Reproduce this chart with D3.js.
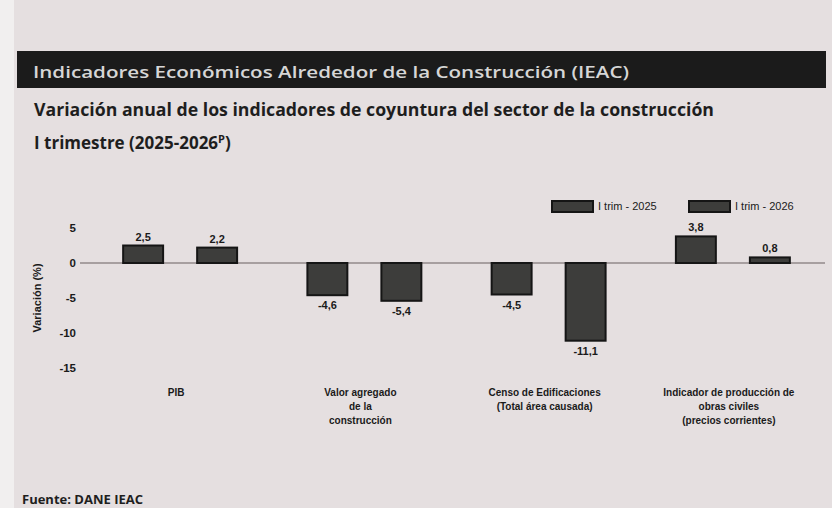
<!DOCTYPE html>
<html>
<head>
<meta charset="utf-8">
<script src="https://cdn.jsdelivr.net/npm/d3@7"></script>
<style>
body { margin: 0; background: #e5dfe0; }
svg { display: block; }
</style>
</head>
<body>
<svg id="chart" width="832" height="508"></svg>
<script>
// datos
var categorias = ["PIB", "Valor agregado de la construcción", "Censo de Edificaciones (Total área causada)", "Indicador de producción de obras civiles (precios corrientes)"];
var etiquetas = [["PIB"], ["Valor agregado", "de la", "construcción"], ["Censo de Edificaciones", "(Total área causada)"], ["Indicador de producción de", "obras civiles", "(precios corrientes)"]];
var series = ["I trim - 2025", "I trim - 2026"];
var trim2025 = [2.5, -4.6, -4.5, 3.8];
var trim2026 = [2.2, -5.4, -11.1, 0.8];
var ticksY = [5, 0, -5, -10, -15];

var svg = d3.select('#chart');
var W = 832, H = 508;

// fondo
svg.append('rect').attr('x', 0).attr('y', 0).attr('width', W).attr('height', H).attr('fill', '#e5dfe0');
svg.append('rect').attr('x', 0).attr('y', 0).attr('width', 14).attr('height', H).attr('fill', '#f1efef');

// barra del titulo
svg.append('rect').attr('x', 17).attr('y', 51).attr('width', 809).attr('height', 37).attr('fill', '#1b1b1b');
svg.append('text').attr('x', 33).attr('y', 78).attr('fill', '#d6d6d6')
    .attr('font-family', 'Open Sans, sans-serif').attr('font-size', 17).attr('font-weight', 600)
    .attr('textLength', 596).attr('lengthAdjust', 'spacingAndGlyphs')
    .text('Indicadores Económicos Alrededor de la Construcción (IEAC)');

svg.append('text').attr('x', 34).attr('y', 116).attr('fill', '#1e1e1e')
    .attr('font-family', 'Open Sans, sans-serif').attr('font-size', 17).attr('font-weight', 700)
    .attr('textLength', 680).attr('lengthAdjust', 'spacingAndGlyphs')
    .text('Variación anual de los indicadores de coyuntura del sector de la construcción');
var sub = svg.append('text').attr('x', 34).attr('y', 149).attr('fill', '#1e1e1e')
    .attr('font-family', 'Open Sans, sans-serif').attr('font-size', 17).attr('font-weight', 700);
sub.append('tspan').text('I trimestre (2025-2026');
sub.append('tspan').attr('font-size', 11).attr('dy', -6).text('P');
sub.append('tspan').attr('dy', 6).text(')');

// escalas
var y = d3.scaleLinear().domain([-15, 5]).range([368, 228]);
var x0 = d3.scaleBand().domain(categorias).range([88, 825]).padding(0);
var x1 = d3.scaleBand().domain(series).range([0, x0.bandwidth()]).paddingInner(0.46).paddingOuter(0.475);

var font = 'Liberation Sans, Arial, sans-serif';

// eje y (solo etiquetas)
var ejeY = svg.append('g').attr('transform', 'translate(76,0)')
    .call(d3.axisLeft(y).tickValues(ticksY).tickSize(0).tickPadding(0).tickFormat(function (d) { return String(d); }));
ejeY.select('.domain').remove();
ejeY.selectAll('text').attr('font-family', font).attr('font-size', 11.5).attr('font-weight', 700).attr('fill', '#1a1a1a');

svg.append('text').attr('transform', 'translate(41,' + y(-5) + ') rotate(-90)')
    .attr('text-anchor', 'middle').attr('font-family', font).attr('font-size', 11).attr('font-weight', 700)
    .attr('fill', '#1a1a1a').text('Variación (%)');

// linea del cero
svg.append('line').attr('x1', 80).attr('x2', 825).attr('y1', y(0)).attr('y2', y(0))
    .attr('stroke', '#6a6060').attr('stroke-width', 1.2);

// barras
var datos = [];
categorias.forEach(function (c, i) {
    datos.push({cat: c, serie: series[0], v: trim2025[i]});
    datos.push({cat: c, serie: series[1], v: trim2026[i]});
});

svg.selectAll('rect.barra').data(datos).enter().append('rect').attr('class', 'barra')
    .attr('x', function (d) { return x0(d.cat) + x1(d.serie); })
    .attr('y', function (d) { return y(Math.max(0, d.v)); })
    .attr('width', x1.bandwidth())
    .attr('height', function (d) { return Math.abs(y(d.v) - y(0)); })
    .attr('fill', '#3d3d3b').attr('stroke', '#151515').attr('stroke-width', 2);

var fmt = function (v) { return v.toFixed(1).replace('.', ','); };
svg.selectAll('text.valor').data(datos).enter().append('text').attr('class', 'valor')
    .attr('x', function (d) { return x0(d.cat) + x1(d.serie) + x1.bandwidth() / 2; })
    .attr('y', function (d) { return d.v >= 0 ? y(d.v) - 5 : y(d.v) + 14; })
    .attr('text-anchor', 'middle').attr('font-family', font).attr('font-size', 11).attr('font-weight', 700)
    .attr('fill', '#1a1a1a').text(function (d) { return fmt(d.v); });

// etiquetas de categoria
categorias.forEach(function (c, i) {
    var t = svg.append('text').attr('x', x0(c) + x0.bandwidth() / 2 - 4).attr('y', 396)
        .attr('text-anchor', 'middle').attr('font-family', font).attr('font-size', 10)
        .attr('font-weight', 700).attr('fill', '#1a1a1a');
    etiquetas[i].forEach(function (l, j) {
        t.append('tspan').attr('x', x0(c) + x0.bandwidth() / 2 - 4).attr('dy', j == 0 ? 0 : 14).text(l);
    });
});

// leyenda
var ley = svg.append('g');
series.forEach(function (s, i) {
    var lx = 552 + i * 137;
    ley.append('rect').attr('x', lx).attr('y', 201).attr('width', 41).attr('height', 11)
        .attr('fill', '#3d3d3b').attr('stroke', '#151515').attr('stroke-width', 2);
    ley.append('text').attr('x', lx + 46).attr('y', 210).attr('font-family', font).attr('font-size', 11)
        .attr('fill', '#1a1a1a').text(s);
});

// fuente
svg.append('text').attr('x', 22).attr('y', 504).attr('font-family', 'Open Sans, sans-serif')
    .attr('font-size', 13).attr('font-weight', 700).attr('fill', '#1e1e1e').text('Fuente: DANE IEAC');
</script>
</body>
</html>
